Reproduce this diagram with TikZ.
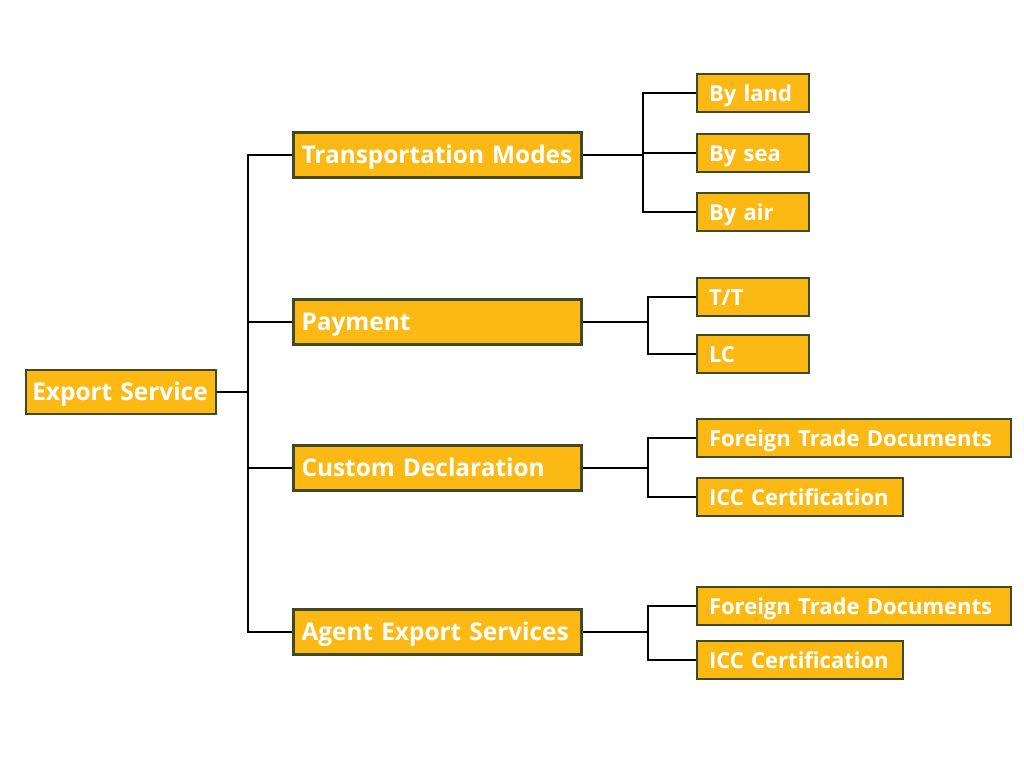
\documentclass[tikz,border=0pt]{standalone}
\usepackage{fontspec}
\setmainfont{Open Sans}
\usepackage{xcolor}
\usepackage{tikz}
\usetikzlibrary{positioning}
\definecolor{boxfill}{HTML}{FDB913}
\definecolor{boxline}{HTML}{404A1E}

\begin{document}
\begin{tikzpicture}[x=0.75pt, y=-0.75pt]
        \tikzset{box/.style={rectangle, draw=boxline, line width=1.6pt, fill=boxfill, text=white,
                font=\bfseries\fontsize{18.3}{20}\selectfont, align=left, inner ysep=0pt,
                text height=13pt, text depth=0pt}}
        \tikzset{topbox/.style={box, text width=133pt, minimum height=33pt, inner xsep=5pt}}
        \tikzset{midbox/.style={box, text width=204pt, minimum height=33.75pt, inner xsep=6pt}}
        \tikzset{leafbox/.style={box, font=\bfseries\fontsize{16.5}{18}\selectfont, minimum height=28.5pt,
                inner xsep=9pt, text height=12pt}}
        \useasboundingbox (0,0) rectangle (1024,768);

        % Root and first level
        \node [topbox] (root) at (121,392) {Export Service};
        \node [midbox] (trans) at (437.5,155) {Transportation Modes};
        \node [midbox] (pay) at (437.5,322) {Payment};
        \node [midbox] (cust) at (437.5,468) {Custom Declaration};
        \node [midbox] (agent) at (437.5,632) {Agent Export Services};

        % Leaves
        \node [leafbox, text width=66pt] (land) at (753,93) {By land};
        \node [leafbox, text width=66pt] (sea) at (753,153) {By sea};
        \node [leafbox, text width=66pt] (air) at (753,212) {By air};
        \node [leafbox, text width=66pt] (tt) at (753,297) {T/T};
        \node [leafbox, text width=66pt] (lc) at (753,354) {LC};
        \node [leafbox, text width=217.5pt] (ftdA) at (854,438) {Foreign Trade Documents};
        \node [leafbox, text width=136.5pt] (iccA) at (800,497) {ICC Certification};
        \node [leafbox, text width=217.5pt] (ftdB) at (854,606) {Foreign Trade Documents};
        \node [leafbox, text width=136.5pt] (iccB) at (800,660) {ICC Certification};

        % Branch points
        \coordinate (trunk) at (248,392);
        \coordinate (jt) at (643,155);
        \coordinate (jp) at (648,322);
        \coordinate (jc) at (648,468);
        \coordinate (ja) at (648,632);

        % Connectors
        \begin{scope}[line width=1.5pt, black]
        \draw (root.east) -- (trunk);
        \foreach \n in {trans, pay, cust, agent}
            \draw (trunk) |- (\n.west);
        \draw (trans.east) -- (jt);
        \foreach \n in {land, sea, air}
            \draw (jt) |- (\n.west);
        \draw (pay.east) -- (jp);
        \foreach \n in {tt, lc}
            \draw (jp) |- (\n.west);
        \draw (cust.east) -- (jc);
        \foreach \n in {ftdA, iccA}
            \draw (jc) |- (\n.west);
        \draw (agent.east) -- (ja);
        \foreach \n in {ftdB, iccB}
            \draw (ja) |- (\n.west);
        \end{scope}
    \end{tikzpicture}
\end{document}
